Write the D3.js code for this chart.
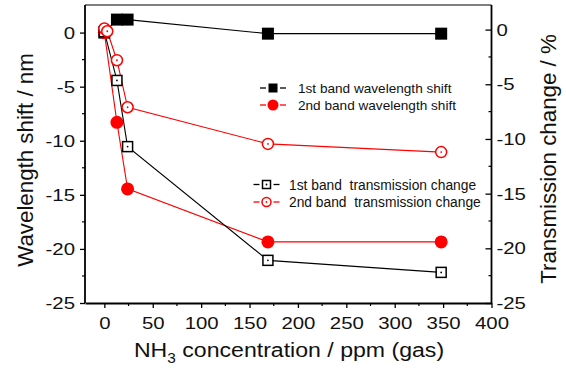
<!DOCTYPE html>
<html>
<head>
<meta charset="utf-8">
<script src="https://cdn.jsdelivr.net/npm/d3@7"></script>
<style>
  html, body { margin: 0; padding: 0; background: #fff; }
  svg text { font-family: "Liberation Sans", Arial, Helvetica, sans-serif; }
</style>
</head>
<body>
<svg id="chart" width="566" height="374"></svg>
<script>
// NH3 concentration (ppm, gas) for each measurement
const conc = [0, 13, 24, 169, 348];
const concTr2 = [0, 3, 13, 24, 169, 348];

// Wavelength shift (nm), left axis
const shiftBand1 = [0, 1.2, 1.2, -0.1, -0.1];
const shiftBand2 = [0, -8.3, -14.45, -19.35, -19.35];

// Transmission change (%), right axis
const transBand1 = [-0.2, -4.65, -10.7, -21.1, -22.2];
const transBand2 = [0.1, -0.15, -2.8, -7.1, -10.45, -11.2];

const xTicks = [0, 50, 100, 150, 200, 250, 300, 350, 400];
const yTicks = [-25, -20, -15, -10, -5, 0];

const legendTop = ["1st band wavelength shift", "2nd band wavelength shift"];
const legendBottom = ["1st band  transmission change", "2nd band  transmission change"];

const svg = d3.select("#chart");
const L = 85, R = 491.5, T = 5, B = 303;
const SX = 1.2; // horizontal widening of tick numerals

const x = d3.scaleLinear().domain([-20, 400]).range([L, R]);
const yL = d3.scaleLinear().domain([-25, 2.55]).range([B, T]);
const yR = d3.scaleLinear().domain([-25, 2.25]).range([B, T]);

const fmt = d => String(d);

// Frame: top border
svg.append("line").attr("x1", L).attr("x2", R).attr("y1", T).attr("y2", T)
  .attr("stroke", "#555").attr("stroke-width", 1.6);

// Bottom axis (outward ticks)
const xMinor = d3.range(25, 400, 50);
const gx = svg.append("g").attr("transform", `translate(0,${B})`);
gx.call(d3.axisBottom(x).tickValues(xTicks).tickFormat(fmt).tickSize(5).tickSizeOuter(0).tickPadding(9));
gx.selectAll(".tick line").attr("stroke-width", 1.3);
gx.selectAll(".tick text").attr("font-size", 17).attr("fill", "#111")
  .attr("transform", `scale(${SX},1)`);
gx.select(".domain").attr("stroke-width", 1.8);
gx.selectAll("line.minor").data(xMinor).enter().append("line").attr("class", "minor")
  .attr("x1", d => x(d)).attr("x2", d => x(d)).attr("y1", 0).attr("y2", 3)
  .attr("stroke", "#000").attr("stroke-width", 1.2);

// Left axis (outward ticks)
const yMinor = d3.range(-22.5, 2.5, 5);
const gl = svg.append("g").attr("transform", `translate(${L},0)`);
gl.call(d3.axisLeft(yL).tickValues(yTicks).tickFormat(fmt).tickSize(5).tickSizeOuter(0));
gl.select(".domain").attr("d", `M0,${T}V${B}`).attr("stroke-width", 1.8);
gl.selectAll(".tick line").attr("stroke-width", 1.3);
gl.selectAll(".tick text").attr("font-size", 17).attr("fill", "#111")
  .attr("x", -10 / SX).attr("transform", `scale(${SX},1)`);
gl.selectAll("line.minor").data(yMinor).enter().append("line").attr("class", "minor")
  .attr("x1", 0).attr("x2", -3).attr("y1", d => yL(d)).attr("y2", d => yL(d))
  .attr("stroke", "#000").attr("stroke-width", 1.2);

// Right axis (inward ticks)
const gr = svg.append("g").attr("transform", `translate(${R},0)`);
gr.call(d3.axisRight(yR).tickValues(yTicks).tickFormat(fmt).tickSize(-6).tickSizeOuter(0));
gr.select(".domain").attr("d", `M0,${T}V${B}`).attr("stroke-width", 1.8);
gr.selectAll(".tick line").attr("stroke-width", 1.3);
gr.selectAll(".tick text").attr("font-size", 17).attr("fill", "#111")
  .attr("x", 5 / SX).attr("transform", `scale(${SX},1)`);
gr.selectAll("line.minor").data(yMinor).enter().append("line").attr("class", "minor")
  .attr("x1", 0).attr("x2", -3).attr("y1", d => yR(d)).attr("y2", d => yR(d))
  .attr("stroke", "#000").attr("stroke-width", 1.2);

// Axis titles
svg.append("text").attr("transform", "translate(289,357) scale(1.1,1)").attr("text-anchor", "middle")
  .attr("font-size", 21).attr("fill", "#111")
  .call(t => {
    t.append("tspan").text("NH");
    t.append("tspan").attr("font-size", 14).attr("dy", 6).text("3");
    t.append("tspan").attr("dy", -6).text(" concentration / ppm (gas)");
  });
svg.append("text").attr("transform", "translate(33,160) rotate(-90)")
  .attr("text-anchor", "middle").attr("font-size", 22.3).attr("fill", "#111")
  .text("Wavelength shift / nm");
svg.append("text").attr("transform", "translate(556,159) rotate(-90)")
  .attr("text-anchor", "middle").attr("font-size", 22.3).attr("fill", "#111")
  .text("Transmission change / %");

// Series
const series = [
  { xs: conc, ys: shiftBand1, y: yL, color: "#000", shape: "square", filled: true, size: 12 },
  { xs: conc, ys: shiftBand2, y: yL, color: "#f00", shape: "circle", filled: true, size: 13 },
  { xs: conc, ys: transBand1, y: yR, color: "#000", shape: "square", filled: false, size: 10 },
  { xs: concTr2, ys: transBand2, y: yR, color: "#f00", shape: "circle", filled: false, size: 11 }
];

const plot = svg.append("g");
series.forEach(s => {
  const pts = s.xs.map((v, i) => [x(v), s.y(s.ys[i])]);
  plot.append("path").attr("d", d3.line()(pts))
    .attr("fill", "none").attr("stroke", s.color).attr("stroke-width", 1.1);
});

function drawMarker(g, cx, cy, s, size) {
  const fill = s.filled ? s.color : "#fff";
  if (s.shape === "square") {
    g.append("rect").attr("x", cx - size / 2).attr("y", cy - size / 2)
      .attr("width", size).attr("height", size)
      .attr("fill", fill).attr("stroke", s.color).attr("stroke-width", s.filled ? 0 : 1.5);
  } else {
    g.append("circle").attr("cx", cx).attr("cy", cy).attr("r", size / 2)
      .attr("fill", fill).attr("stroke", s.color).attr("stroke-width", s.filled ? 0 : 1.5);
  }
  if (!s.filled) {
    g.append("circle").attr("cx", cx).attr("cy", cy).attr("r", 0.9).attr("fill", s.color);
  }
}

series.forEach(s => {
  s.xs.forEach((v, i) => drawMarker(plot, x(v), s.y(s.ys[i]), s, s.size));
});

// Legends
function legendRow(lx, ly, s, label, tx, fs) {
  const g = svg.append("g");
  g.append("line").attr("x1", lx - 13).attr("x2", lx - 7).attr("y1", ly).attr("y2", ly)
    .attr("stroke", s.color).attr("stroke-width", 1.3);
  g.append("line").attr("x1", lx + 7).attr("x2", lx + 13).attr("y1", ly).attr("y2", ly)
    .attr("stroke", s.color).attr("stroke-width", 1.3);
  drawMarker(g, lx, ly, s, s.legendSize);
  g.append("text").attr("x", tx).attr("y", ly + 5).attr("font-size", fs)
    .attr("fill", "#111").style("white-space", "pre").text(label);
}
series[0].legendSize = 9; series[1].legendSize = 11;
series[2].legendSize = 8; series[3].legendSize = 9;
legendRow(273, 88, series[0], legendTop[0], 298, 13.6);
legendRow(273, 105, series[1], legendTop[1], 298, 13.6);
legendRow(266.5, 184.5, series[2], legendBottom[0], 289, 13.8);
legendRow(266.5, 202, series[3], legendBottom[1], 289, 13.8);
</script>
</body>
</html>
